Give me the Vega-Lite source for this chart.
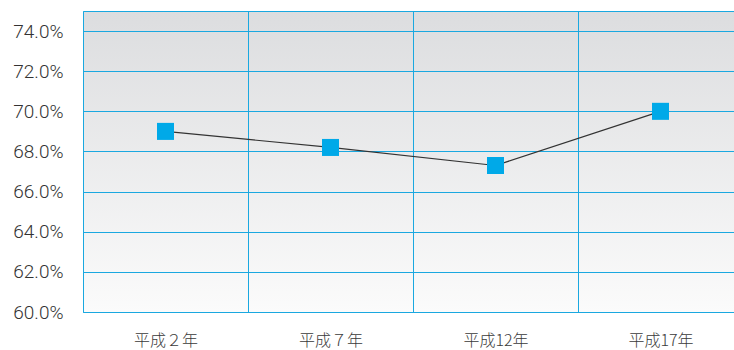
{
  "$schema": "https://vega.github.io/schema/vega-lite/v6.json",
  "autosize": {"type": "none"},
  "padding": {"left": 83, "top": 11, "right": 0, "bottom": 38},
  "width": 660,
  "height": 301,
  "background": "#ffffff",
  "config": {
    "view": {
      "stroke": "#1aa8e0",
      "strokeWidth": 1,
      "fill": {"gradient": "linear", "x1": 0, "y1": 0, "x2": 0, "y2": 1,
        "stops": [{"offset": 0, "color": "#dcdddf"}, {"offset": 1, "color": "#fbfbfb"}]}
    },
    "font": "Noto Sans CJK JP"
  },
  "data": {
    "values": [
      {"year": "平成２年", "rate": 0.690},
      {"year": "平成７年", "rate": 0.682},
      {"year": "平成12年", "rate": 0.673},
      {"year": "平成17年", "rate": 0.700}
    ]
  },
  "encoding": {
    "x": {
      "field": "year", "type": "nominal", "sort": null,
      "scale": {"paddingInner": 0, "paddingOuter": 0},
      "axis": {
        "title": null, "labelAngle": 0, "ticks": false, "domain": false,
        "grid": true, "gridColor": "#1aa8e0", "gridWidth": 1, "tickBand": "extent",
        "labelFontSize": 16, "labelColor": "#3a3a3a", "labelPadding": 20,
        "labelFont": "Noto Sans CJK JP", "labelFontWeight": 300
      }
    },
    "y": {
      "field": "rate", "type": "quantitative",
      "scale": {"domain": [0.60, 0.75], "nice": false, "zero": false},
      "axis": {
        "title": null, "values": [0.60, 0.62, 0.64, 0.66, 0.68, 0.70, 0.72, 0.74],
        "format": ".1%", "ticks": false, "domain": false,
        "grid": true, "gridColor": "#1aa8e0", "gridWidth": 1,
        "labelFontSize": 19, "labelColor": "#333333", "labelPadding": 20,
        "labelFont": "Roboto", "labelFontWeight": 300
      }
    }
  },
  "layer": [
    {"mark": {"type": "line", "color": "#333333", "strokeWidth": 1.2}},
    {"mark": {"type": "point", "shape": "square", "filled": true, "opacity": 1, "size": 290, "color": "#00a9e8"}}
  ]
}
